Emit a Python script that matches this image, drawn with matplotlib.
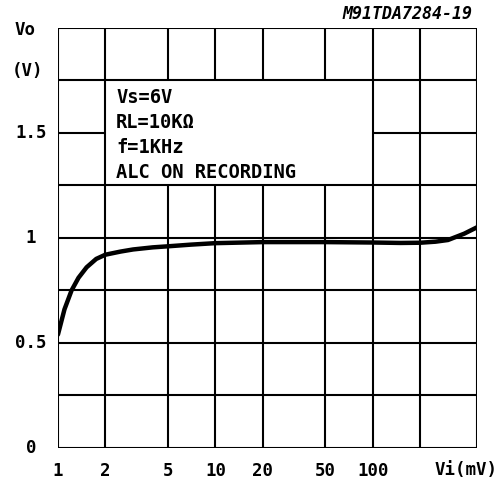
import matplotlib
matplotlib.use('Agg')
import matplotlib.pyplot as plt
from matplotlib.transforms import blended_transform_factory

# curve: Vi (mV) -> Vo (V)
vi = [1, 1.1, 1.22, 1.35, 1.52, 1.75, 2, 2.5, 3, 4, 5, 7, 10, 20, 50, 100, 150, 200, 250, 300, 380, 457]
vo = [0.54, 0.66, 0.75, 0.81, 0.86, 0.90, 0.92, 0.935, 0.945, 0.955, 0.96, 0.968, 0.975, 0.98, 0.98,
      0.978, 0.976, 0.977, 0.982, 0.99, 1.02, 1.05]

x_grid = [1, 2, 5, 10, 20, 50, 100, 200, 457]
x_ticks = [1, 2, 5, 10, 20, 50, 100]
x_labels = ['1', '2', '5', '10', '20', '50', '100']
y_grid = [0, 0.25, 0.5, 0.75, 1.0, 1.25, 1.5, 1.75, 2.0]
y_ticks = [0, 0.5, 1, 1.5]
y_labels = ['0', '0.5', '1', '1.5']
notes = ['Vs=6V', 'RL=10KΩ', 'f=1KHz', 'ALC ON RECORDING']

font = {'family': 'DejaVu Sans Mono', 'weight': 'bold'}

fig = plt.figure(figsize=(5.04, 4.88), dpi=100)
ax = fig.add_axes([0.115, 0.082, 0.831, 0.861])
ax.set_xscale('log')
ax.set_xlim(1, 457)
ax.set_ylim(0, 2.0)

# grid, with a hole where the notes sit (2..100 mV, 1.25..1.75 V)
lw = 1.5
for x in x_grid:
    if 2 < x < 100:
        ax.vlines(x, 0, 1.25, color='k', lw=lw)
        ax.vlines(x, 1.75, 2.0, color='k', lw=lw)
    else:
        ax.vlines(x, 0, 2.0, color='k', lw=lw)
for y in y_grid:
    if y == 1.5:
        ax.hlines(y, 1, 2, color='k', lw=lw)
        ax.hlines(y, 100, 457, color='k', lw=lw)
    else:
        ax.hlines(y, 1, 457, color='k', lw=lw)

ax.plot(vi, vo, color='k', lw=3.2, solid_capstyle='round')

for s in ax.spines.values():
    s.set_visible(False)
ax.minorticks_off()
ax.set_xticks(x_ticks)
ax.set_xticklabels(x_labels, fontdict=font, fontsize=12.5)
ax.tick_params(axis='x', length=0, pad=10)
ax.set_yticks(y_ticks)
ax.set_yticklabels([])
ax.tick_params(axis='y', length=0)

# y labels are centred in a column left of the axis
tr = blended_transform_factory(fig.transFigure, ax.transData)
for v, lab in zip(y_ticks, y_labels):
    ax.text(31 / 504, v, lab, transform=tr, ha='center', va='center', fontsize=12.5, **font)

fig.text(0.988, 0.037, 'Vi(mV)', ha='right', va='center', fontsize=12.5, **font)
fig.text(0.05, 0.938, 'Vo', ha='center', va='center', fontsize=12.5, **font)
fig.text(0.054, 0.855, '(V)', ha='center', va='center', fontsize=12.5, **font)
fig.text(0.938, 0.972, 'M91TDA7284-19', ha='right', va='center', fontsize=12,
         family='DejaVu Sans Mono', weight='bold', style='italic')

for i, t in enumerate(notes):
    ax.text(2.34, 1.667 - i * 0.119, t, ha='left', va='center', fontsize=13.5, **font)

fig.savefig('out.png', dpi=100)
